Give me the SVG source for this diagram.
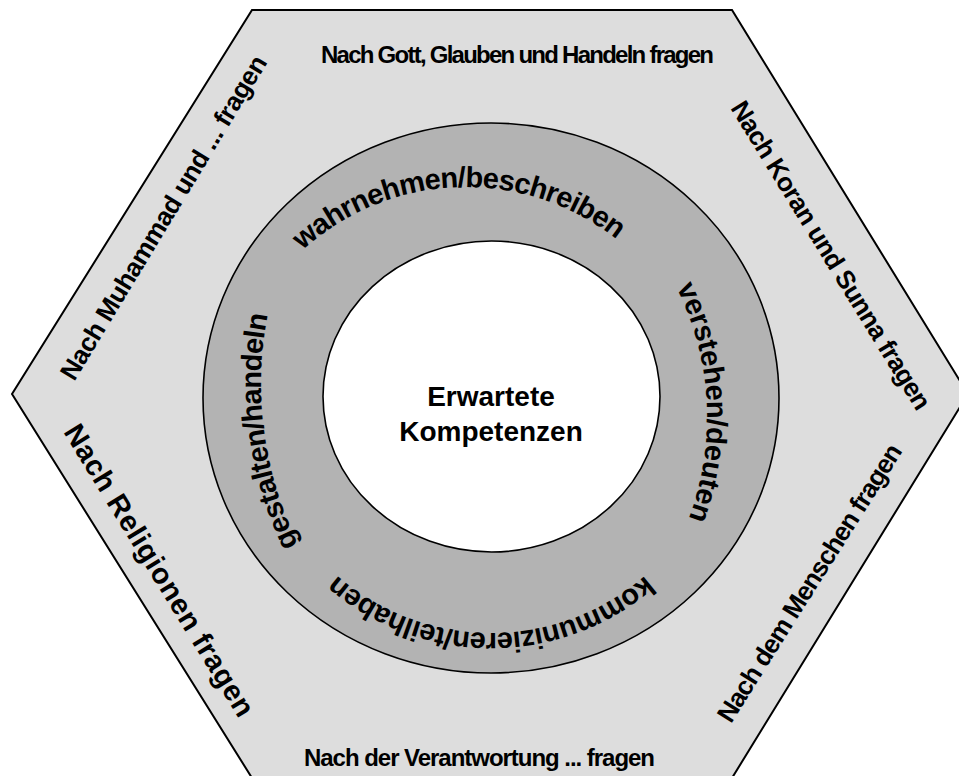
<svg xmlns="http://www.w3.org/2000/svg" width="959" height="776" viewBox="0 0 959 776">
  <style>
    .t { font-family: "Liberation Sans", Arial, sans-serif; font-weight: bold; fill: #000; }
    .outer { font-size: 24px; }
    .side { font-size: 26px; }
    .ringt { font-size: 29px; }
    .center { font-size: 28px; text-anchor: middle; }
  </style>
  <defs>
    <path id="arcTop" d="M 225.4 396.2 A 243 243 0 0 1 703.7 379.5"/>
    <path id="arcRight" d="M 454.1 131.1 A 288 288 0 0 1 483.8 697.6"/>
    <path id="arcBottom" d="M 722.4 438.9 A 235 235 0 0 1 259.6 438.9"/>
    <path id="arcLeft" d="M 546.1 738.5 A 363 363 0 0 1 455.8 62.3"/>
  </defs>
  <rect width="959" height="776" fill="#ffffff"/>
  <g id="hexagon">
    <polygon points="252,10 732,10 968,394 732,778 252,778 12,394" fill="#dddddd" stroke="#000" stroke-width="2" stroke-linejoin="miter"/>
  </g>
  <g id="ring">
    <ellipse cx="491" cy="398" rx="288" ry="275" fill="#b3b3b3" stroke="#000" stroke-width="1.6"/>
  </g>
  <g id="core">
    <ellipse cx="491.5" cy="396.5" rx="168.5" ry="155.5" fill="#ffffff" stroke="#000" stroke-width="1.6"/>
    <text class="t center" x="491" y="406">Erwartete</text>
    <text class="t center" x="491" y="441">Kompetenzen</text>
  </g>
  <g id="ring-labels">
    <text class="t ringt"><textPath href="#arcTop" startOffset="50%" text-anchor="middle" textLength="342" lengthAdjust="spacing">wahrnehmen/beschreiben</textPath></text>
    <text class="t ringt"><textPath href="#arcRight" startOffset="50%" text-anchor="middle" textLength="238" lengthAdjust="spacing">verstehen/deuten</textPath></text>
    <text class="t ringt"><textPath href="#arcBottom" startOffset="50%" text-anchor="middle" textLength="336" lengthAdjust="spacing">kommunizieren/teilhaben</textPath></text>
    <text class="t ringt"><textPath href="#arcLeft" startOffset="50%" text-anchor="middle" textLength="236" lengthAdjust="spacing">gestalten/handeln</textPath></text>
  </g>
  <g id="side-labels">
    <text class="t outer" x="517.5" y="63" text-anchor="middle" textLength="393" lengthAdjust="spacing">Nach Gott, Glauben und Handeln fragen</text>
    <text class="t outer" x="479.5" y="766" text-anchor="middle" textLength="351" lengthAdjust="spacing">Nach der Verantwortung ... fragen</text>
    <text class="t side" transform="translate(171 222) rotate(-58.8)" x="0" y="0" text-anchor="middle" textLength="374" lengthAdjust="spacing">Nach Muhammad und ... fragen</text>
    <text class="t side" transform="translate(823.5 260) rotate(58.4)" x="0" y="0" text-anchor="middle" textLength="357" lengthAdjust="spacing">Nach Koran und Sunna fragen</text>
    <text class="t side" transform="translate(817 587.5) rotate(-57.8)" x="0" y="0" text-anchor="middle" textLength="323" lengthAdjust="spacing">Nach dem Menschen fragen</text>
    <text class="t side" transform="translate(151 575.5) rotate(58.5)" x="0" y="0" text-anchor="middle" textLength="337" lengthAdjust="spacing" style="font-size:29px">Nach Religionen fragen</text>
  </g>
</svg>
